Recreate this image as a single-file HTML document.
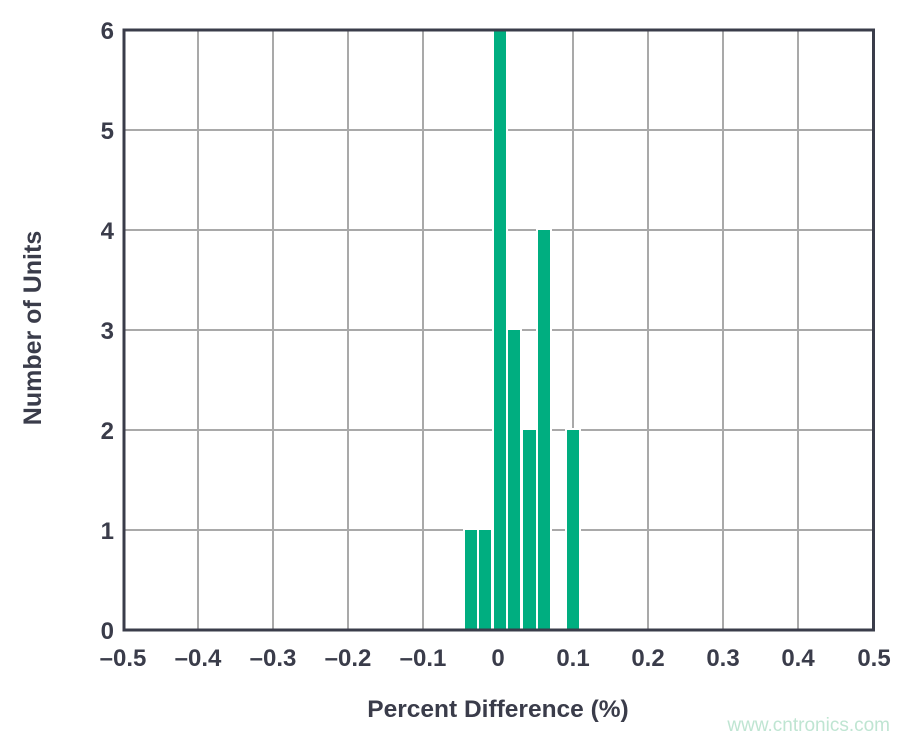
<!DOCTYPE html>
<html><head><style>
body{margin:0;background:#fff}
svg text{font-family:"Liberation Sans",Arial,sans-serif;font-weight:bold;fill:#3a3c4a}
</style></head><body>
<svg width="911" height="740" xmlns="http://www.w3.org/2000/svg">
<g stroke="#a9a9a9" stroke-width="2">
<line x1="198" y1="30" x2="198" y2="630"/><line x1="273" y1="30" x2="273" y2="630"/>
<line x1="348" y1="30" x2="348" y2="630"/><line x1="423" y1="30" x2="423" y2="630"/>
<line x1="498" y1="30" x2="498" y2="630"/><line x1="573" y1="30" x2="573" y2="630"/>
<line x1="648" y1="30" x2="648" y2="630"/><line x1="723" y1="30" x2="723" y2="630"/>
<line x1="798" y1="30" x2="798" y2="630"/>
<line x1="123" y1="130" x2="874" y2="130"/><line x1="123" y1="230" x2="874" y2="230"/>
<line x1="123" y1="330" x2="874" y2="330"/><line x1="123" y1="430" x2="874" y2="430"/>
<line x1="123" y1="530" x2="874" y2="530"/>
</g>
<g fill="#00ae80" stroke="#fff" stroke-width="2">
<rect x="464" y="529" width="14" height="101"/>
<rect x="478" y="529" width="14" height="101"/>
<rect x="493" y="30" width="14" height="600"/>
<rect x="507" y="329" width="14" height="301"/>
<rect x="522" y="429" width="15" height="201"/>
<rect x="537" y="229" width="14" height="401"/>
<rect x="566" y="429" width="14" height="201"/>
</g>
<rect x="124" y="30" width="749.5" height="600" fill="none" stroke="#3a3c4a" stroke-width="3"/>
<g font-size="24" text-anchor="end">
<text x="114" y="639">0</text><text x="114" y="539">1</text><text x="114" y="439">2</text>
<text x="114" y="339">3</text><text x="114" y="239">4</text><text x="114" y="139">5</text>
<text x="114" y="39">6</text>
</g>
<g font-size="24" text-anchor="middle">
<text x="123" y="666">–0.5</text><text x="198" y="666">–0.4</text><text x="273" y="666">–0.3</text>
<text x="348" y="666">–0.2</text><text x="423" y="666">–0.1</text><text x="498" y="666">0</text>
<text x="573" y="666">0.1</text><text x="648" y="666">0.2</text><text x="723" y="666">0.3</text>
<text x="798" y="666">0.4</text><text x="874" y="666">0.5</text>
</g>
<text x="498" y="717" font-size="24.5" text-anchor="middle">Percent Difference (%)</text>
<text transform="translate(41,328) rotate(-90)" font-size="25" text-anchor="middle">Number of Units</text>
<text x="890" y="731" font-size="19" text-anchor="end" style="font-weight:normal;fill:#bfe5d2">www.cntronics.com</text>
</svg>
</body></html>
